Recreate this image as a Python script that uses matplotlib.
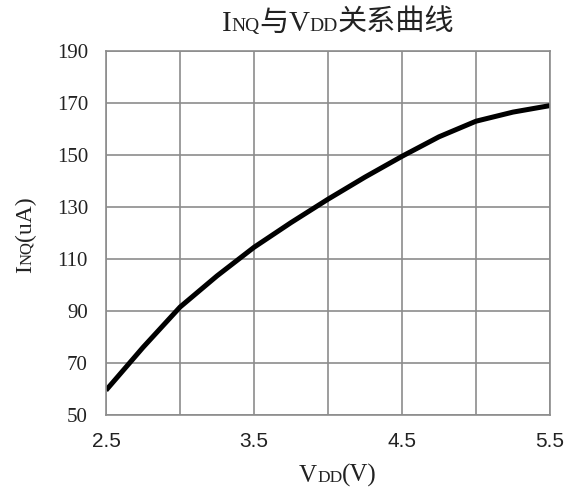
import matplotlib
matplotlib.use("Agg")
import matplotlib.pyplot as plt

vdd = [2.5, 2.75, 3.0, 3.25, 3.5, 3.75, 4.0, 4.25, 4.5, 4.75, 5.0, 5.25, 5.5]
inq = [59.5, 76.0, 91.5, 103.5, 114.5, 124.0, 133.0, 141.5, 149.5, 157.0, 163.0, 166.5, 169.0]

x_grid = [2.5, 3.0, 3.5, 4.0, 4.5, 5.0, 5.5]
x_labels = ["2.5", "", "3.5", "", "4.5", "", "5.5"]
y_ticks = [50, 70, 90, 110, 130, 150, 170, 190]

SERIF = ["Liberation Serif", "Noto Sans CJK SC", "DejaVu Sans"]
GRID = "#8c8c8c"

W, H = 575, 493


def rich_text(fig, pieces, x, y, rotation=0):
    """Draw (text, size) pieces one after another, centred on pixel (x, y) baseline."""
    renderer = fig.canvas.get_renderer()
    widths = []
    for s, size in pieces:
        t = fig.text(0, 0, s, fontsize=size, family=SERIF)
        widths.append(t.get_window_extent(renderer).width)
        t.remove()
    pos = -sum(widths) / 2
    for (s, size), w in zip(pieces, widths):
        if rotation == 90:
            px, py = x, y - pos
        else:
            px, py = x + pos, y
        fig.text(px / W, 1 - py / H, s, fontsize=size, family=SERIF,
                 ha="left", va="baseline", rotation=rotation,
                 rotation_mode="anchor", color="#222222")
        pos += w


fig = plt.figure(figsize=(W / 100, H / 100), dpi=100)
ax = fig.add_axes([106 / W, 1 - 415 / H, (550 - 106) / W, (415 - 51) / H])

ax.plot(vdd, inq, color="black", linewidth=3.6, solid_capstyle="butt")

ax.set_xlim(2.5, 5.5)
ax.set_ylim(50, 190)
ax.set_xticks(x_grid)
ax.set_xticklabels(x_labels, family="Liberation Sans", fontsize=15, color="#222222")
ax.set_yticks(y_ticks)
ax.set_yticklabels([str(v) for v in y_ticks], family="Liberation Serif",
                   fontsize=15, color="#222222")
ax.tick_params(axis="x", length=0, pad=12)
ax.tick_params(axis="y", length=0, pad=13)
ax.grid(True, color=GRID, linewidth=1.2)
ax.set_axisbelow(True)
for sp in ax.spines.values():
    sp.set_color(GRID)
    sp.set_linewidth(1.2)

rich_text(fig, [("I", 21), ("NQ", 14), ("与", 21), ("V", 21), ("DD", 14), ("关系曲线", 21)],
          338, 31)
rich_text(fig, [("V", 18), ("DD", 12.5), ("(V)", 18)], 338, 482)
rich_text(fig, [("I", 17), ("NQ", 12), ("(uA)", 17)], 31, 235, rotation=90)

fig.savefig("out.png", dpi=100)
